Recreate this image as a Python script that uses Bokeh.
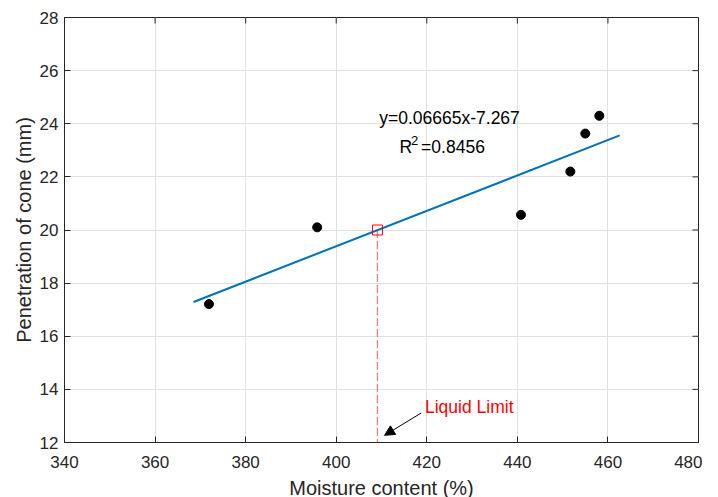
import math
from bokeh.plotting import figure
from bokeh.models import Range1d, Arrow, NormalHead, FixedTicker
from bokeh.core.properties import value
from bokeh.embed import file_html
from bokeh.resources import INLINE

# data
moisture = [371.9, 395.8, 440.8, 451.7, 455.0, 458.1]
penetration = [17.21, 20.10, 20.57, 22.20, 23.63, 24.30]
fit_x = [368.5, 462.6]
fit_y = [17.29, 23.56]
ll_x = [409.1]
ll_y = [20.0]
drop_x = [409.1, 409.1]
drop_y = [20.0, 12.0]
x_ticks = [340, 360, 380, 400, 420, 440, 460, 480]
y_ticks = [12, 14, 16, 18, 20, 22, 24, 26, 28]
eq_text = "y=0.06665x-7.267"
r2_parts = ["R", "2", "=0.8456"]
ll_text = "Liquid Limit"
x_label = "Moisture content (%)"
y_label = "Penetration of cone (mm)"

FONT = "Liberation Sans"
AX = "#262626"

x_min, x_max = x_ticks[0], x_ticks[-1]
y_min, y_max = y_ticks[0], y_ticks[-1]

p = figure(frame_width=634, frame_height=425, output_backend="svg",
           toolbar_location=None, x_range=Range1d(x_min, x_max), y_range=Range1d(y_min, y_max),
           min_border_left=64, min_border_right=4, min_border_top=17, min_border_bottom=40)
p.outline_line_color = AX
p.outline_line_width = 1
p.background_fill_color = "white"
p.border_fill_color = "white"

for ax in (p.xaxis[0], p.yaxis[0]):
    ax.major_tick_in = 6
    ax.major_tick_out = 0
    ax.minor_tick_in = 0
    ax.minor_tick_out = 0
    ax.axis_line_color = AX
    ax.major_tick_line_color = AX
    ax.major_label_text_font = FONT
    ax.major_label_text_font_size = "17px"
    ax.major_label_text_color = AX
    ax.axis_label_text_font = FONT
    ax.axis_label_text_font_size = "20px"
    ax.axis_label_text_font_style = "normal"
    ax.axis_label_text_color = AX
p.xaxis[0].ticker = FixedTicker(ticks=x_ticks)
p.yaxis[0].ticker = FixedTicker(ticks=y_ticks)
p.xaxis[0].axis_label = x_label
p.yaxis[0].axis_label = y_label
p.xaxis[0].major_label_standoff = 13
p.xaxis[0].axis_label_standoff = 6
p.yaxis[0].major_label_standoff = 6
p.yaxis[0].axis_label_standoff = 2

p.xgrid.ticker = FixedTicker(ticks=x_ticks)
p.ygrid.ticker = FixedTicker(ticks=y_ticks)
p.grid.grid_line_color = "#dedede"
p.grid.grid_line_alpha = 0.9

# inward ticks on top and right edges of the box
p.ray(x=x_ticks, y=[y_max] * len(x_ticks), length=6, length_units="screen",
      angle=-math.pi / 2, line_color=AX, line_width=1)
p.ray(x=[x_max] * len(y_ticks), y=y_ticks, length=6, length_units="screen",
      angle=math.pi, line_color=AX, line_width=1)

p.line(drop_x, drop_y, line_color="#f06a6a", line_width=1.3, line_dash="8 3", line_alpha=0.85)
p.line(fit_x, fit_y, line_color="#0072BD", line_width=2)
p.scatter(moisture, penetration, marker="circle", size=9, fill_color="black", line_color="black")
p.scatter(ll_x, ll_y, marker="square", size=10, fill_color=None, line_color="red", line_width=1)

p.text([409.5], [24.22], text=[eq_text], text_font=value(FONT), text_font_size="17.5px",
       text_color="black", text_baseline="alphabetic", text_align="left")
p.text([414.0], [23.13], text=[r2_parts[0]], text_font=value(FONT), text_font_size="17.5px",
       text_color="black", text_baseline="alphabetic", text_align="left")
p.text([414.0], [23.13], text=[r2_parts[1]], text_font=value(FONT), text_font_size="13px",
       text_color="black", text_baseline="alphabetic", text_align="left",
       x_offset=11.5, y_offset=-6.5)
p.text([414.0], [23.13], text=[r2_parts[2]], text_font=value(FONT), text_font_size="17.5px",
       text_color="black", text_baseline="alphabetic", text_align="left", x_offset=21.5)
p.text([419.6], [13.34], text=[ll_text], text_font=value(FONT), text_font_size="17.5px",
       text_color="red", text_baseline="alphabetic", text_align="left")

p.add_layout(Arrow(end=NormalHead(size=10, fill_color="black", line_color="black"),
                   x_start=418.76, y_start=13.11, x_end=410.66, y_end=12.27,
                   line_color="black", line_width=1))

open("out.html", "w").write(file_html(p, INLINE))
